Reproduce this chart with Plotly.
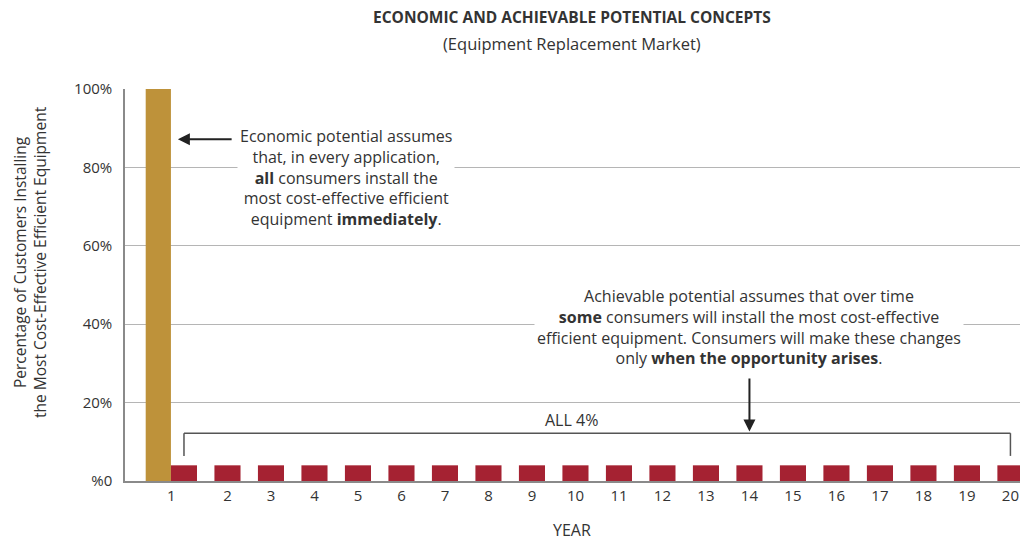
import plotly.graph_objects as go

years = list(range(1, 21))
achievable = [4] * 20           # Achievable potential: 4% each year
economic_year = [1]
economic = [100]                # Economic potential: 100% immediately
x_ticklabels = [str(y) for y in years]
y_tickvals = [0, 20, 40, 60, 80, 100]
y_ticktext = ["%0", "20%", "40%", "60%", "80%", "100%"]

GOLD = "#BE923A"
RED = "#A52232"
TXT = "#333333"
FONT = "Open Sans"

bar_w = 0.6
gold_offset = -0.88
gold_w = 0.58

fig = go.Figure()
fig.add_trace(go.Bar(x=economic_year, y=economic, width=gold_w, offset=gold_offset,
                     marker=dict(color=GOLD, line=dict(width=0)), showlegend=False, hoverinfo="skip"))
fig.add_trace(go.Bar(x=years, y=achievable, width=bar_w, offset=-bar_w / 2,
                     marker=dict(color=RED, line=dict(width=0)), showlegend=False, hoverinfo="skip"))

# tick for year 1 centred under its pair of bars
tickvals = [years[0] + (gold_offset + bar_w / 2) / 2] + years[1:]

fig.update_layout(
    width=1020, height=540,
    margin=dict(l=125, r=0, t=89, b=59),
    plot_bgcolor="white", paper_bgcolor="white",
    barmode="overlay",
    font=dict(family=FONT, color=TXT, size=14),
    xaxis=dict(range=[-0.356, 20.22], tickvals=tickvals, ticktext=x_ticklabels,
               showgrid=False, zeroline=False, showline=True, linecolor="#8a8a8a", linewidth=1.5,
               ticks="", tickfont=dict(size=15, color=TXT), fixedrange=True),
    yaxis=dict(range=[0, 100], tickvals=y_tickvals, ticktext=y_ticktext,
               showgrid=True, gridcolor="#b5b5b5", gridwidth=1, zeroline=False,
               showline=True, linecolor="#8a8a8a", linewidth=1.5, ticks="", ticklabelstandoff=8,
               tickfont=dict(size=15, color=TXT), fixedrange=True),
)

# titles
fig.add_annotation(text="<b>ECONOMIC AND ACHIEVABLE POTENTIAL CONCEPTS</b>", xref="paper", yref="paper",
                   x=(572 - 125) / 895, y=(481 - 17) / 392, showarrow=False, font=dict(size=15.5, color=TXT),
                   xanchor="center", yanchor="middle")
fig.add_annotation(text="(Equipment Replacement Market)", xref="paper", yref="paper",
                   x=(572 - 125) / 895, y=(481 - 43) / 392, showarrow=False, font=dict(size=16.5, color=TXT),
                   xanchor="center", yanchor="middle")
fig.add_annotation(text="YEAR", xref="paper", yref="paper",
                   x=(572 - 125) / 895, y=(481 - 530) / 392, showarrow=False, font=dict(size=16, color=TXT),
                   xanchor="center", yanchor="middle")
fig.add_annotation(text="Percentage of Customers Installing<br>the Most Cost-Effective Efficient Equipment",
                   xref="paper", yref="paper", x=(30 - 125) / 895, y=(481 - 262) / 392, textangle=-90,
                   showarrow=False, font=dict(size=15.5, color=TXT), xanchor="center", yanchor="middle")

# economic potential note
fig.add_annotation(text="Economic potential assumes<br>that, in every application,<br><b>all</b> consumers install the<br>"
                        "most cost-effective efficient<br>equipment <b>immediately</b>.",
                   x=4.72, y=77.5, xref="x", yref="y", showarrow=False, bgcolor="white",
                   font=dict(size=16, color=TXT), align="center", borderpad=2)
fig.add_annotation(x=0.86, y=87.2, ax=2.13, ay=87.2, xref="x", yref="y", axref="x", ayref="y",
                   text="", showarrow=True, arrowhead=2, arrowsize=1.2, arrowwidth=2, arrowcolor="#222")

# achievable potential note
fig.add_annotation(text="Achievable potential assumes that over time<br><b>some</b> consumers will install the most cost-effective<br>"
                        "efficient equipment. Consumers will make these changes<br>only <b>when the opportunity arises</b>.",
                   x=14.0, y=39.3, xref="x", yref="y", showarrow=False, bgcolor="white",
                   font=dict(size=16, color=TXT), align="center", borderpad=2)
fig.add_annotation(x=14, y=12.6, ax=14, ay=26.5, xref="x", yref="y", axref="x", ayref="y",
                   text="", showarrow=True, arrowhead=2, arrowsize=1.2, arrowwidth=2, arrowcolor="#222")

# bracket over years 1..20
br_y, br_tick = 12.2, 6.4
line = dict(color="#555", width=1.5)
fig.add_shape(type="line", x0=years[0], x1=years[-1], y0=br_y, y1=br_y, xref="x", yref="y", line=line)
fig.add_shape(type="line", x0=years[0], x1=years[0], y0=br_tick, y1=br_y, xref="x", yref="y", line=line)
fig.add_shape(type="line", x0=years[-1], x1=years[-1], y0=br_tick, y1=br_y, xref="x", yref="y", line=line)
fig.add_annotation(text="ALL 4%", x=9.9, y=15.6, xref="x", yref="y", showarrow=False,
                   font=dict(size=16, color=TXT))

fig.write_html("out.html", config={"displayModeBar": False},
               post_script="document.body.style.margin='0';document.body.style.overflow='hidden';")
